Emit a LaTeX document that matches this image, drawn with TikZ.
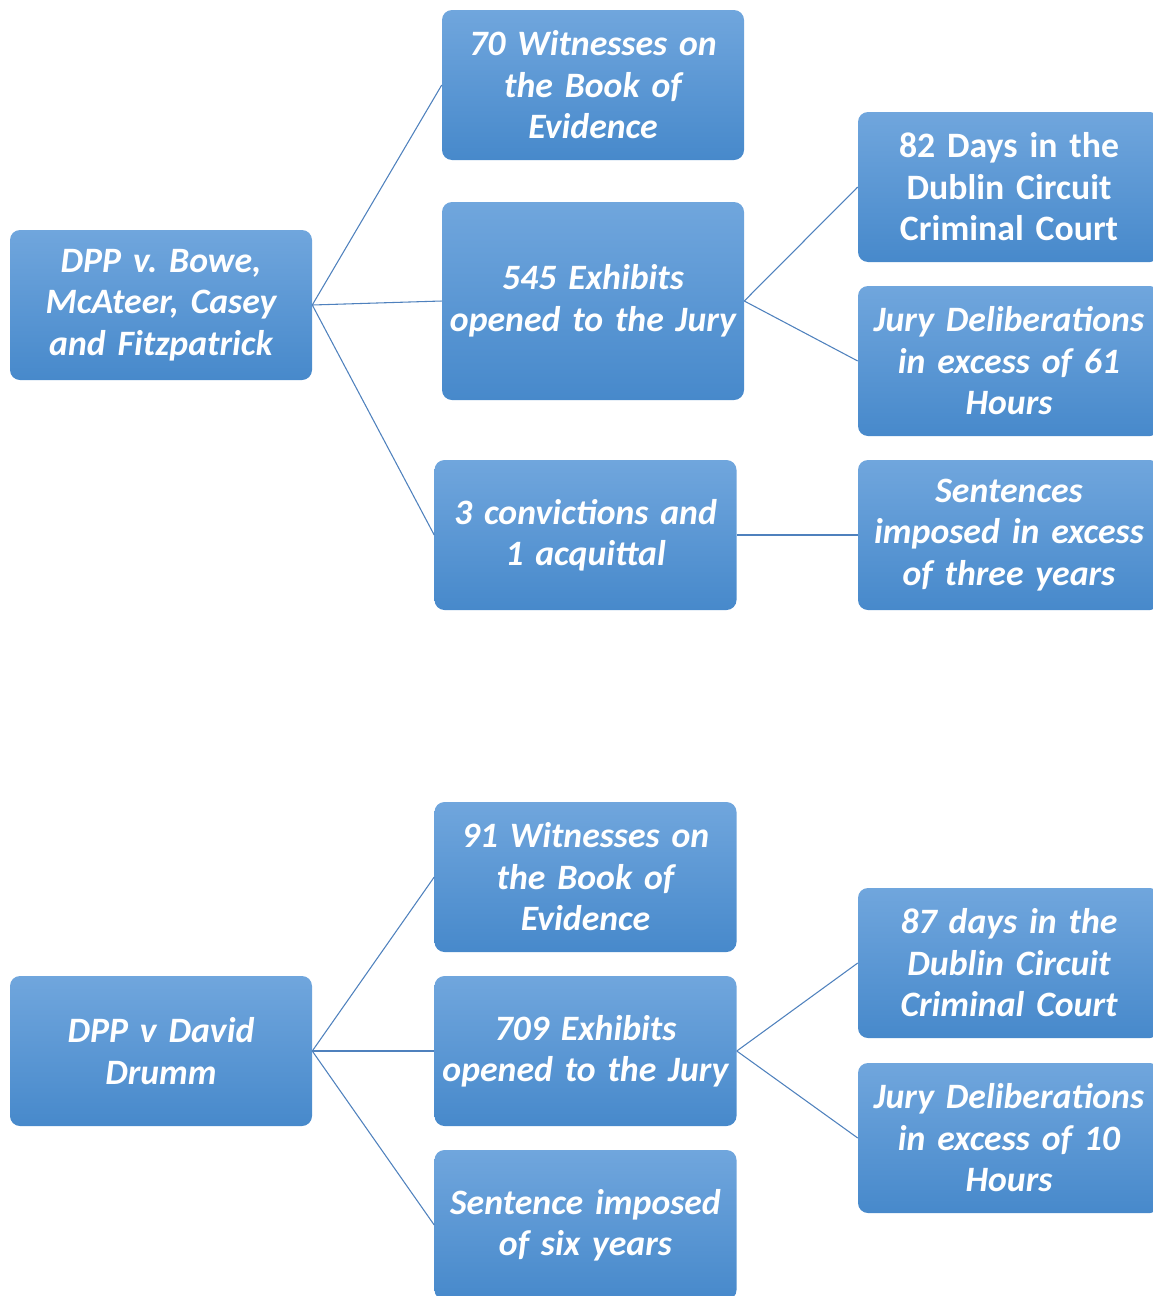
\documentclass[tikz,border=0pt]{standalone}
\usepackage{fontspec}
\setmainfont{Carlito}
\frenchspacing
\definecolor{boxtop}{RGB}{112,166,221}
\definecolor{boxbottom}{RGB}{71,137,203}
\definecolor{linkblue}{RGB}{79,129,189}
\begin{document}
\begin{tikzpicture}[x=0.75pt,y=-0.75pt,
case/.style={rounded corners=7.5pt, top color=boxtop, bottom color=boxbottom,
	minimum width=226.5pt, minimum height=112.5pt, inner sep=1pt,
	text width=224pt, align=center, text=white,
	font=\fontsize{26.8}{31.1}\selectfont\bfseries\itshape},
link/.style={draw=linkblue, line width=0.8pt}]
\useasboundingbox (0,0) rectangle (1153,1296);
\clip (0,0) rectangle (1153,1296);
%first case
\node[case] (t) at (161,305) {DPP v. Bowe,\\ McAteer, Casey\\ and Fitzpatrick};
\node[case] (t1) at (593,85) {70 Witnesses on\\ the Book of\\ Evidence};
\node[case, minimum height=148.5pt] (t2) at (593,301) {545 Exhibits\\ opened to the Jury};
\node[case] (t3) at (585.5,535) {3 convictions and\\ 1 acquittal};
\node[case] (t21) at (1009,187) {\upshape 82 Days in the\\ Dublin Circuit\\ Criminal Court};
\node[case] (t22) at (1009,361) {Jury Deliberations\\ in excess of 61\\ Hours};
\node[case] (t31) at (1009,535) {Sentences\\ imposed in excess\\ of three years};
%second case
\node[case] (b) at (161,1051) {DPP v David\\ Drumm};
\node[case] (b1) at (585.5,877) {91 Witnesses on\\ the Book of\\ Evidence};
\node[case] (b2) at (585.5,1051) {709 Exhibits\\ opened to the Jury};
\node[case] (b3) at (585.5,1225) {Sentence imposed\\ of six years};
\node[case] (b21) at (1009,963) {87 days in the\\ Dublin Circuit\\ Criminal Court};
\node[case] (b22) at (1009,1138) {Jury Deliberations\\ in excess of 10\\ Hours};
%parent to child lines
\foreach \p/\c in {t/t1,t/t2,t/t3,t2/t21,t2/t22,t3/t31,b/b1,b/b2,b/b3,b2/b21,b2/b22}
	\draw[link] (\p.east) -- (\c.west);
\end{tikzpicture}
\end{document}
